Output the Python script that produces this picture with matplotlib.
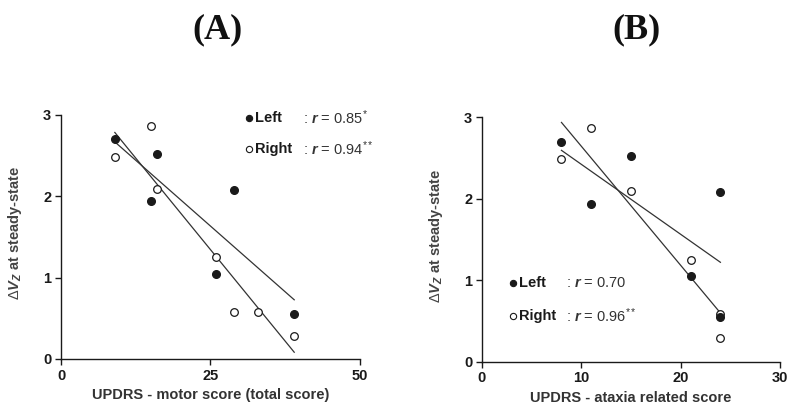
import matplotlib.pyplot as plt
import numpy as np

plt.rcParams['font.family'] = 'Liberation Sans'
plt.rcParams['mathtext.fontset'] = 'custom'
plt.rcParams['mathtext.rm'] = 'Liberation Sans'
plt.rcParams['mathtext.it'] = 'Liberation Sans:italic'
plt.rcParams['mathtext.bf'] = 'Liberation Sans:bold:italic'

# data (left / right side of body)
motor_left_x = [9, 15, 16, 26, 29, 39]
motor_left_y = [2.70, 1.94, 2.52, 1.05, 2.08, 0.55]
motor_right_x = [9, 15, 16, 26, 29, 33, 39]
motor_right_y = [2.48, 2.87, 2.09, 1.25, 0.58, 0.58, 0.28]

ataxia_left_x = [8, 11, 15, 21, 24, 24]
ataxia_left_y = [2.70, 1.94, 2.52, 1.05, 2.08, 0.55]
ataxia_right_x = [8, 11, 15, 21, 24, 24]
ataxia_right_y = [2.49, 2.87, 2.10, 1.25, 0.58, 0.29]

motor_ticks = [0, 25, 50]
ataxia_ticks = [0, 10, 20, 30]
y_ticks = [0, 1, 2, 3]

r_left = ['0.85$^{*}$', '0.70']
r_right = ['0.94$^{**}$', '0.96$^{**}$']

fig = plt.figure(figsize=(7.91, 4.09), dpi=100)
axA = fig.add_axes([61 / 791, 50 / 409, 299 / 791, 244 / 409])
axB = fig.add_axes([482 / 791, 47.4 / 409, 298 / 791, 244.3 / 409])

col = '#1a1a1a'


def fit_line(ax, x, y):
    k, b = np.polyfit(x, y, 1)
    xs = np.array([min(x), max(x)])
    ax.plot(xs, k * xs + b, color='#333333', lw=0.9, zorder=2)


def panel(ax, lx, ly, rx, ry, ticks, xlabel):
    fit_line(ax, lx, ly)
    fit_line(ax, rx, ry)
    ax.plot(rx, ry, 'o', ms=5.5, mfc='white', mec=col, mew=0.9, zorder=3)
    ax.plot(lx, ly, 'o', ms=5.5, mfc=col, mec=col, zorder=4)
    ax.set_xlim(ticks[0], ticks[-1])
    ax.set_ylim(0, 3)
    ax.set_xticks(ticks)
    ax.set_yticks(y_ticks)
    for s in ['top', 'right']:
        ax.spines[s].set_visible(False)
    for s in ['left', 'bottom']:
        ax.spines[s].set_linewidth(1.0)
        ax.spines[s].set_color(col)
    ax.tick_params(direction='out', length=4, width=1.0, color=col,
                   labelsize=10.5, labelcolor=col, pad=3)
    for t in ax.get_xticklabels() + ax.get_yticklabels():
        t.set_fontweight('bold')
    ax.set_xlabel(xlabel, fontsize=10.5, fontweight='bold', color='#333333', labelpad=4)
    ax.set_ylabel(r'$\Delta\mathbf{V_Z}$ at steady-state', fontsize=10.5,
                  fontweight='bold', color='#444444')


panel(axA, motor_left_x, motor_left_y, motor_right_x, motor_right_y,
      motor_ticks, 'UPDRS - motor score (total score)')
panel(axB, ataxia_left_x, ataxia_left_y, ataxia_right_x, ataxia_right_y,
      ataxia_ticks, 'UPDRS - ataxia related score')
axA.yaxis.set_label_coords(-0.125, 0.516)
axB.yaxis.set_label_coords(-0.125, 0.514)


def legend(ax, x0, y0, dy, xr, rl, rr):
    # x0/y0 in pixel coords of the figure
    inv = ax.transAxes.inverted()
    for i, (name, filled, rv) in enumerate([('Left', True, rl), ('Right', False, rr)]):
        yp = 409 - (y0 + i * dy)
        mx, my = inv.transform((x0, yp))
        ax.plot([mx], [my], 'o', ms=4.5, mfc=col if filled else 'white', mec=col,
                mew=0.8, transform=ax.transAxes, clip_on=False)
        tx, _ = inv.transform((x0 + 6, yp))
        ax.text(tx, my, name, transform=ax.transAxes, fontsize=10.5, fontweight='bold',
                color=col, va='center', ha='left')
        cx, _ = inv.transform((xr, yp))
        ax.text(cx, my, ': $\\mathbf{r}$ = ' + rv, transform=ax.transAxes, fontsize=10.5,
                color='#333333', va='center', ha='left')


legend(axA, 249, 117.7, 31.5, 303, r_left[0], r_right[0])
legend(axB, 512.5, 282.7, 33.3, 566, r_left[1], r_right[1])

fig.text(217 / 791, 1 - 30 / 409, '(A)', fontfamily='Liberation Serif', fontweight='bold',
         fontsize=26, ha='center', va='center', color='#111111')
fig.text(637 / 791, 1 - 30 / 409, '(B)', fontfamily='Liberation Serif', fontweight='bold',
         fontsize=26, ha='center', va='center', color='#111111')

fig.savefig('out.png', dpi=100)
